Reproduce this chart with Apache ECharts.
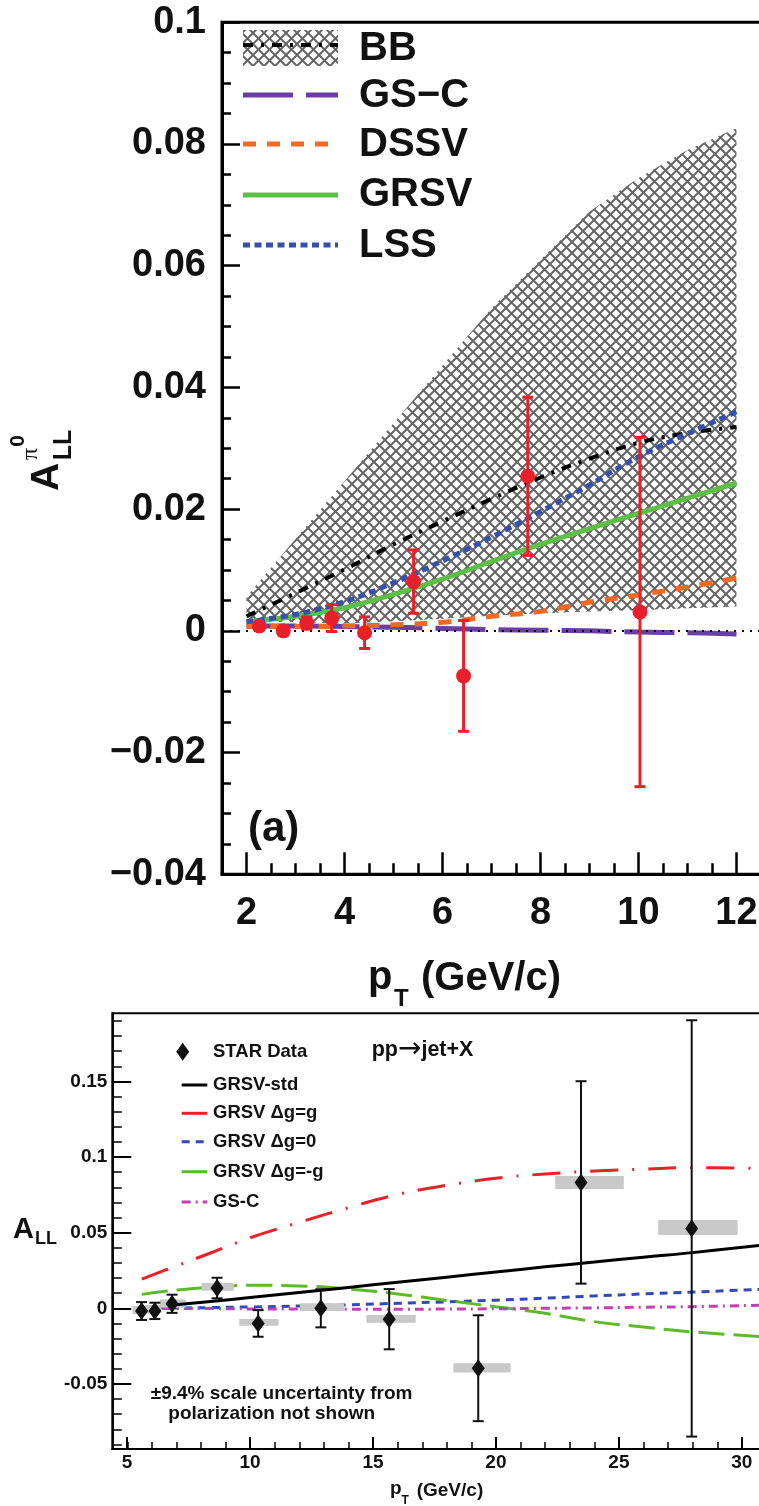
<!DOCTYPE html>
<html><head><meta charset="utf-8">
<script src="https://cdn.jsdelivr.net/npm/echarts@6/dist/echarts.min.js"></script>
<style>html,body{margin:0;padding:0;background:#fff}#c{width:759px;height:1506px}</style>
</head><body><div id="c"></div><script>
// ---------- Panel (a): pi0 A_LL ----------
const topX    = [2, 3, 4, 5, 6, 7, 8, 9, 10, 11, 12];
const bbLow   = [0.0016, 0.0014, 0.0012, 0.0016, 0.0020, 0.0025, 0.0029, 0.0032, 0.0034, 0.0037, 0.0040];
const bbHigh  = [0.0056, 0.0151, 0.0246, 0.0341, 0.0436, 0.0530, 0.0610, 0.0689, 0.0744, 0.0790, 0.0826];
const bbMid   = [0.0024, 0.0062, 0.0101, 0.0142, 0.0180, 0.0217, 0.0252, 0.0283, 0.0309, 0.0325, 0.0335];
const gscTop  = [0.0008, 0.0008, 0.0007, 0.0006, 0.0004, 0.0002, 0.0001, 0.0000, -0.0002, -0.0003, -0.0005];
const dssvTop = [0.0007, 0.0007, 0.0008, 0.0010, 0.0014, 0.0024, 0.0032, 0.0047, 0.0059, 0.0072, 0.0087];
const grsvTop = [0.0015, 0.0024, 0.0038, 0.0060, 0.0085, 0.0114, 0.0142, 0.0168, 0.0193, 0.0218, 0.0243];
const lssTop  = [0.0015, 0.0027, 0.0048, 0.0079, 0.0115, 0.0154, 0.0196, 0.0240, 0.0286, 0.0324, 0.0360];
const pi0X    = [2.26, 2.75, 3.23, 3.74, 4.41, 5.41, 6.43, 7.74, 10.03];
const pi0Y    = [0.0008, 0.0000, 0.0013, 0.0021, -0.0003, 0.0081, -0.0074, 0.0254, 0.0031];
const pi0Err  = [0.0005, 0.0007, 0.0010, 0.0022, 0.0026, 0.0052, 0.0091, 0.0130, 0.0287];
const topLegend = ['BB', 'GS\u2212C', 'DSSV', 'GRSV', 'LSS'];

// ---------- Panel (b): jet A_LL ----------
const jetThX   = [5.6, 7, 8.5, 10, 12, 14, 16, 18, 20, 22, 24, 26, 28, 30.7];
const grsvStdX = [6.86, 8.5, 10, 12, 14, 16, 18, 20, 22, 24, 26, 28, 30.7];
const grsvStd  = [0.0022, 0.0047, 0.0071, 0.0104, 0.0138, 0.0172, 0.0206, 0.0240, 0.0274, 0.0306, 0.0338, 0.0368, 0.0416];
const grsvMax  = [0.0193, 0.0280, 0.0372, 0.0466, 0.0568, 0.0665, 0.0752, 0.0813, 0.0860, 0.0888, 0.0907, 0.0920, 0.0930, 0.0925];
const grsvZero = [0.0000, 0.0002, 0.0005, 0.0009, 0.0015, 0.0023, 0.0033, 0.0043, 0.0054, 0.0067, 0.0082, 0.0095, 0.0107, 0.0125];
const grsvMin  = [0.0092, 0.0120, 0.0141, 0.0152, 0.0148, 0.0128, 0.0095, 0.0052, 0.0010, -0.0033, -0.0088, -0.0124, -0.0156, -0.0186];
const gscJet   = [0.0000, -0.0001, -0.0002, -0.0004, -0.0005, -0.0006, -0.0006, -0.0005, -0.0003, 0.0000, 0.0003, 0.0007, 0.0011, 0.0020];
const jetX     = [5.59, 6.13, 6.83, 8.66, 10.33, 12.88, 15.66, 19.28, 23.46, 27.96];
const jetY     = [-0.0018, -0.0017, 0.0030, 0.0134, -0.0100, 0.0000, -0.0072, -0.0396, 0.0832, 0.0528];
const jetErr   = [0.0059, 0.0054, 0.0060, 0.0068, 0.0088, 0.0126, 0.0199, 0.0350, 0.0669, 0.1376];
const sysXLo   = [5.22, 5.72, 6.34, 8.03, 9.56, 12.03, 14.73, 18.27, 22.41, 26.60];
const sysXHi   = [5.89, 6.40, 7.39, 9.34, 11.16, 13.83, 16.74, 20.60, 25.20, 29.83];
const sysYLo   = [-0.0038, -0.0029, 0.0004, 0.0116, -0.0115, -0.0018, -0.0095, -0.0425, 0.0788, 0.0484];
const sysYHi   = [0.0015, 0.0022, 0.0059, 0.0169, -0.0071, 0.0033, -0.0044, -0.0363, 0.0874, 0.0583];
const jetXTicks = [5, 10, 15, 20, 25, 30];
const jetYTicks = [-0.05, 0, 0.05, 0.1, 0.15];
const jetLegend = ['STAR Data', 'GRSV-std', 'GRSV \u0394g=g', 'GRSV \u0394g=0', 'GRSV \u0394g=-g', 'GS-C'];

// ---------- helpers ----------
const FF = '"Liberation Sans", Arial, Helvetica, sans-serif';
const zip = (xs, ys) => xs.map((x, i) => [x, ys[i]]);
function hatchPattern() {
  const c = document.createElement('canvas');
  c.width = 11; c.height = 11;
  const g = c.getContext('2d');
  g.strokeStyle = '#666666'; g.lineWidth = 2;
  g.beginPath();
  g.moveTo(-2, -2); g.lineTo(13, 13);
  g.moveTo(-2, 13); g.lineTo(13, -2);
  g.stroke();
  return c;
}
const hatch = { image: hatchPattern(), repeat: 'repeat' };

const C = { gsc: '#6a3fa3', dssv: '#f26a22', grsv: '#5dbf48', lss: '#3451ad',
            red: '#e8202a', jred: '#ea2228', jblue: '#3249b5', jgreen: '#5cba2c', jmag: '#c23fb4' };
const DASH = { bb: [10, 8, 3, 8], gsc: [50, 13], dssv: [13, 11], lss: [7, 4.5],
               jred: [28, 14, 2, 14], jblue: [8, 6], jgreen: [26, 9], jmag: [9, 5, 2, 5] };

function errBar(color, width, hw) {
  return function (params, api) {
    const x = api.value(0), lo = api.value(1), hi = api.value(2);
    const a = api.coord([x, hi]), b = api.coord([x, lo]);
    const st = { stroke: color, lineWidth: width };
    return { type: 'group', children: [
      { type: 'line', shape: { x1: a[0], y1: a[1], x2: b[0], y2: b[1] }, style: st },
      { type: 'line', shape: { x1: a[0] - hw, y1: a[1], x2: a[0] + hw, y2: a[1] }, style: st },
      { type: 'line', shape: { x1: b[0] - hw, y1: b[1], x2: b[0] + hw, y2: b[1] }, style: st }
    ]};
  };
}

const tickLab = (size) => ({ fontSize: size, fontWeight: 'bold', fontFamily: FF, color: '#111' });
const hiddenAxis = { axisLine: { show: false, onZero: false }, axisLabel: { show: false }, splitLine: { show: false } };

const option = {
  animation: false,
  backgroundColor: '#fff',
  grid: [
    { left: 222, top: 22.3, width: 539, height: 852, show: true, borderColor: '#000', borderWidth: 3, outerBoundsMode: 'none', containLabel: false },
    { left: 112.3, top: 1013.3, width: 648, height: 435.7, show: true, borderColor: '#000', borderWidth: 2, outerBoundsMode: 'none', containLabel: false },
    // helper grid for panel (b) minor ticks: same scale, tick origin at 5 and -0.09
    { left: 127.3, top: 1020.9, width: 633, height: 423.6, show: false, outerBoundsMode: 'none', containLabel: false },
    // helper grid for panel (a) x ticks: same scale, spanning pT 2..12
    { left: 246.5, top: 22.3, width: 490, height: 852, show: false, outerBoundsMode: 'none', containLabel: false }
  ],
  xAxis: [
    { gridIndex: 0, type: 'value', position: 'bottom', min: 1.5, max: 12.5, splitLine: { show: false },
      axisLine: { onZero: false, lineStyle: { color: '#000', width: 3 } },
      axisTick: { show: false }, axisLabel: { show: false } },
    { gridIndex: 3, type: 'value', position: 'bottom', min: 2, max: 12, interval: 2, splitLine: { show: false },
      axisLine: { show: false, onZero: false },
      axisTick: { inside: true, length: 22, lineStyle: { color: '#000', width: 2.5 } },
      minorTick: { show: true, splitNumber: 4, length: 11, lineStyle: { color: '#000', width: 2.5 } },
      minorSplitLine: { show: false },
      axisLabel: Object.assign({ margin: 20, hideOverlap: false, showMinLabel: true, showMaxLabel: true }, tickLab(38)) },
    { gridIndex: 1, type: 'value', position: 'bottom', min: 4.4, max: 30.75, splitLine: { show: false },
      axisLine: { onZero: false, lineStyle: { color: '#000', width: 2 } },
      axisTick: { inside: true, length: 12, customValues: jetXTicks, lineStyle: { color: '#000', width: 2 } },
      axisLabel: Object.assign({ customValues: jetXTicks, margin: 4, hideOverlap: false }, tickLab(19)) },
    Object.assign({ gridIndex: 2, type: 'value', position: 'bottom', offset: 4.4, min: 5, max: 30.75, interval: 1,
      axisTick: { inside: true, length: 7, lineStyle: { color: '#000', width: 1.5 } } }, hiddenAxis)
  ],
  yAxis: [
    { gridIndex: 0, type: 'value', position: 'left', min: -0.04, max: 0.1, interval: 0.02, splitLine: { show: false },
      axisLine: { onZero: false, lineStyle: { color: '#000', width: 3 } },
      axisTick: { inside: true, length: 18, lineStyle: { color: '#000', width: 2.5 } },
      minorTick: { show: true, splitNumber: 4, length: 9, lineStyle: { color: '#000', width: 2.5 } },
      minorSplitLine: { show: false },
      axisLabel: Object.assign({ margin: 16, showMinLabel: true, showMaxLabel: true, hideOverlap: false,
        formatter: v => Math.abs(v) < 1e-9 ? '0' : Math.abs(v - 0.1) < 1e-9 ? '0.1' : (v < 0 ? '\u2212' : '') + Math.abs(v).toFixed(2) }, tickLab(38)) },
    { gridIndex: 1, type: 'value', position: 'left', min: -0.093, max: 0.195, splitLine: { show: false },
      axisLine: { onZero: false, lineStyle: { color: '#000', width: 2 } },
      axisTick: { inside: true, length: 19, customValues: jetYTicks, lineStyle: { color: '#000', width: 2 } },
      axisLabel: Object.assign({ customValues: jetYTicks, margin: 5, hideOverlap: false,
        formatter: v => Math.abs(v) < 1e-9 ? '0' : String(+v.toFixed(2)) }, tickLab(19)) },
    Object.assign({ gridIndex: 2, type: 'value', position: 'left', offset: 15, min: -0.09, max: 0.19, interval: 0.01,
      axisTick: { inside: true, length: 9.5, lineStyle: { color: '#000', width: 1.5 } } }, hiddenAxis),
    { gridIndex: 3, type: 'value', min: -0.04, max: 0.1, show: false }
  ],
  series: [
    // ---- panel (a) ----
    { type: 'custom', name: 'BBband', xAxisIndex: 0, yAxisIndex: 0,
      data: topX.map((x, i) => [x, bbLow[i], bbHigh[i]]), encode: { x: 0, y: [1, 2] }, silent: true, z: 1,
      renderItem: (params, api) => {
        if (params.dataIndex !== 0) return null;
        const up = topX.map((x, i) => api.coord([x, bbHigh[i]]));
        const dn = topX.map((x, i) => api.coord([x, bbLow[i]])).reverse();
        return { type: 'polygon', shape: { points: up.concat(dn) }, style: { fill: hatch } };
      } },
    { type: 'line', name: 'GS-C', xAxisIndex: 0, yAxisIndex: 0, data: zip(topX, gscTop), symbol: 'none', smooth: 0.4,
      lineStyle: { color: C.gsc, width: 5, type: DASH.gsc }, z: 2,
      markLine: { silent: true, symbol: 'none', label: { show: false }, data: [{ yAxis: 0 }],
        lineStyle: { color: '#000', width: 2, type: [2, 6] } } },
    { type: 'line', name: 'DSSV', xAxisIndex: 0, yAxisIndex: 0, data: zip(topX, dssvTop), symbol: 'none', smooth: 0.4,
      lineStyle: { color: C.dssv, width: 5, type: DASH.dssv }, z: 2 },
    { type: 'line', name: 'GRSV', xAxisIndex: 0, yAxisIndex: 0, data: zip(topX, grsvTop), symbol: 'none', smooth: 0.4,
      lineStyle: { color: C.grsv, width: 5 }, z: 2 },
    { type: 'line', name: 'BB', xAxisIndex: 0, yAxisIndex: 0, data: zip(topX, bbMid), symbol: 'none', smooth: 0.4,
      lineStyle: { color: '#000', width: 4, type: DASH.bb }, z: 2 },
    { type: 'line', name: 'LSS', xAxisIndex: 0, yAxisIndex: 0, data: zip(topX, lssTop), symbol: 'none', smooth: 0.4,
      lineStyle: { color: C.lss, width: 5, type: DASH.lss }, z: 2 },
    { type: 'custom', name: 'pi0err', xAxisIndex: 0, yAxisIndex: 0,
      data: pi0X.map((x, i) => [x, pi0Y[i] - pi0Err[i], pi0Y[i] + pi0Err[i]]),
      encode: { x: 0, y: [1, 2] }, renderItem: errBar(C.red, 3, 5.5), z: 5 },
    { type: 'scatter', name: 'pi0', xAxisIndex: 0, yAxisIndex: 0, data: zip(pi0X, pi0Y),
      symbol: 'circle', symbolSize: 15, itemStyle: { color: C.red, opacity: 1 }, z: 6 },
    // ---- panel (b) ----
    { type: 'line', name: 'GRSV dg=g', xAxisIndex: 2, yAxisIndex: 1, data: zip(jetThX, grsvMax), symbol: 'none', smooth: 0.4,
      lineStyle: { color: C.jred, width: 3, type: DASH.jred }, z: 2 },
    { type: 'line', name: 'GRSV dg=0', xAxisIndex: 2, yAxisIndex: 1, data: zip(jetThX, grsvZero), symbol: 'none', smooth: 0.4,
      lineStyle: { color: C.jblue, width: 3, type: DASH.jblue }, z: 2 },
    { type: 'line', name: 'GRSV dg=-g', xAxisIndex: 2, yAxisIndex: 1, data: zip(jetThX, grsvMin), symbol: 'none', smooth: 0.4,
      lineStyle: { color: C.jgreen, width: 3, type: DASH.jgreen }, z: 2 },
    { type: 'line', name: 'GS-C jet', xAxisIndex: 2, yAxisIndex: 1, data: zip(jetThX, gscJet), symbol: 'none', smooth: 0.4,
      lineStyle: { color: C.jmag, width: 3, type: DASH.jmag }, z: 2 },
    { type: 'custom', name: 'sys', xAxisIndex: 2, yAxisIndex: 1,
      data: jetX.map((x, i) => [sysXLo[i], sysXHi[i], sysYLo[i], sysYHi[i]]),
      encode: { x: [0, 1], y: [2, 3] },
      renderItem: (params, api) => {
        const p1 = api.coord([api.value(0), api.value(3)]);
        const p2 = api.coord([api.value(1), api.value(2)]);
        return { type: 'rect', shape: { x: p1[0], y: p1[1], width: p2[0] - p1[0], height: p2[1] - p1[1] },
                 style: { fill: '#c9c9c9' } };
      }, z: 3 },
    { type: 'line', name: 'GRSV-std', xAxisIndex: 2, yAxisIndex: 1, data: zip(grsvStdX, grsvStd), symbol: 'none', smooth: 0.4,
      lineStyle: { color: '#000', width: 3 }, z: 4 },
    { type: 'custom', name: 'jetErr', xAxisIndex: 2, yAxisIndex: 1,
      data: jetX.map((x, i) => [x, jetY[i] - jetErr[i], jetY[i] + jetErr[i]]),
      encode: { x: 0, y: [1, 2] }, renderItem: errBar('#111', 2, 5.5), z: 5 },
    { type: 'scatter', name: 'STAR', xAxisIndex: 2, yAxisIndex: 1, data: zip(jetX, jetY),
      symbol: 'diamond', symbolSize: [13, 18], itemStyle: { color: '#111', opacity: 1 }, z: 6 }
  ],
  graphic: []
};

// ---------- decorations: titles, legends, notes ----------
const G = option.graphic;
const txt = (x, y, text, size, opts = {}) => G.push(Object.assign({ type: 'text', x, y, z: 100,
  style: Object.assign({ text, fontSize: size, fontWeight: 'bold', fontFamily: FF, fill: '#111', align: 'left', verticalAlign: 'middle' }, opts.style || {}) },
  opts.rotation ? { rotation: opts.rotation } : {}));
const seg = (x1, y1, x2, y2, stroke, w, dash) => G.push({ type: 'line', z: 100,
  shape: { x1, y1, x2, y2 }, style: { stroke, lineWidth: w, lineDash: dash || null } });

// panel (a) legend
G.push({ type: 'rect', z: 100, shape: { x: 243, y: 30, width: 95, height: 36 }, style: { fill: hatch } });
seg(243, 45, 338, 45, '#000', 4, DASH.bb);
seg(243, 95, 338, 95, C.gsc, 5, DASH.gsc);
seg(243, 144, 338, 144, C.dssv, 5, DASH.dssv);
seg(243, 195, 338, 195, C.grsv, 5);
seg(243, 245, 338, 245, C.lss, 5, DASH.lss);
[49, 96, 145, 195, 246].forEach((y, i) => txt(359, y, topLegend[i], 40));
txt(248, 829, '(a)', 42);
// panel (a) axis titles
const R = Math.PI / 2;
txt(47, 477, 'A', 39, { rotation: R, style: { align: 'center' } });
txt(64, 445, 'LL', 25, { rotation: R, style: { align: 'center' } });
txt(31, 454, '\u03c0', 24, { rotation: R, style: { align: 'center', fontFamily: '"Liberation Serif", serif', fontWeight: 'normal' } });
txt(18, 441, '0', 21, { rotation: R, style: { align: 'center' } });
txt(368, 978, 'p', 40);
txt(394, 999, 'T', 24);
txt(421, 979, '(GeV/c)', 40);

// panel (b) legend
G.push({ type: 'polygon', z: 100, shape: { points: [[182.7, 1042.7], [189.2, 1051.7], [182.7, 1060.7], [176.2, 1051.7]] }, style: { fill: '#111' } });
seg(181.7, 1085, 207.3, 1085, '#000', 3);
seg(181.7, 1113.3, 207.3, 1113.3, C.jred, 3, DASH.jred);
seg(181.7, 1141.7, 207.3, 1141.7, C.jblue, 3, DASH.jblue);
seg(181.7, 1171.7, 207.3, 1171.7, C.jgreen, 3, DASH.jgreen);
seg(181.7, 1202, 207.3, 1202, C.jmag, 3, DASH.jmag);
[1052, 1085, 1113.3, 1141.7, 1171.7, 1202].forEach((y, i) => txt(213, y, jetLegend[i], 18.5));
G.push({ type: 'text', x: 371.7, y: 1050, z: 100, style: { text: 'pp{a|\u2192}jet+X', fontSize: 21.5, fontWeight: 'bold',
  fontFamily: FF, fill: '#111', align: 'left', verticalAlign: 'middle',
  rich: { a: { fontSize: 28, fontWeight: 'normal', fontFamily: '"DejaVu Sans", sans-serif', fill: '#111' } } } });
txt(150.7, 1393.3, '\u00b19.4% scale uncertainty from', 19);
txt(168.3, 1413.3, 'polarization not shown', 19);
// panel (b) axis titles
txt(13, 1229.5, 'A', 29);
txt(35, 1239, 'LL', 18);
txt(390, 1489, 'p', 19);
txt(401.5, 1501, 'T', 12);
txt(416.7, 1491, '(GeV/c)', 19);

const chart = echarts.init(document.getElementById('c'), null, { renderer: 'canvas', width: 759, height: 1506 });
chart.setOption(option);
</script></body></html>
